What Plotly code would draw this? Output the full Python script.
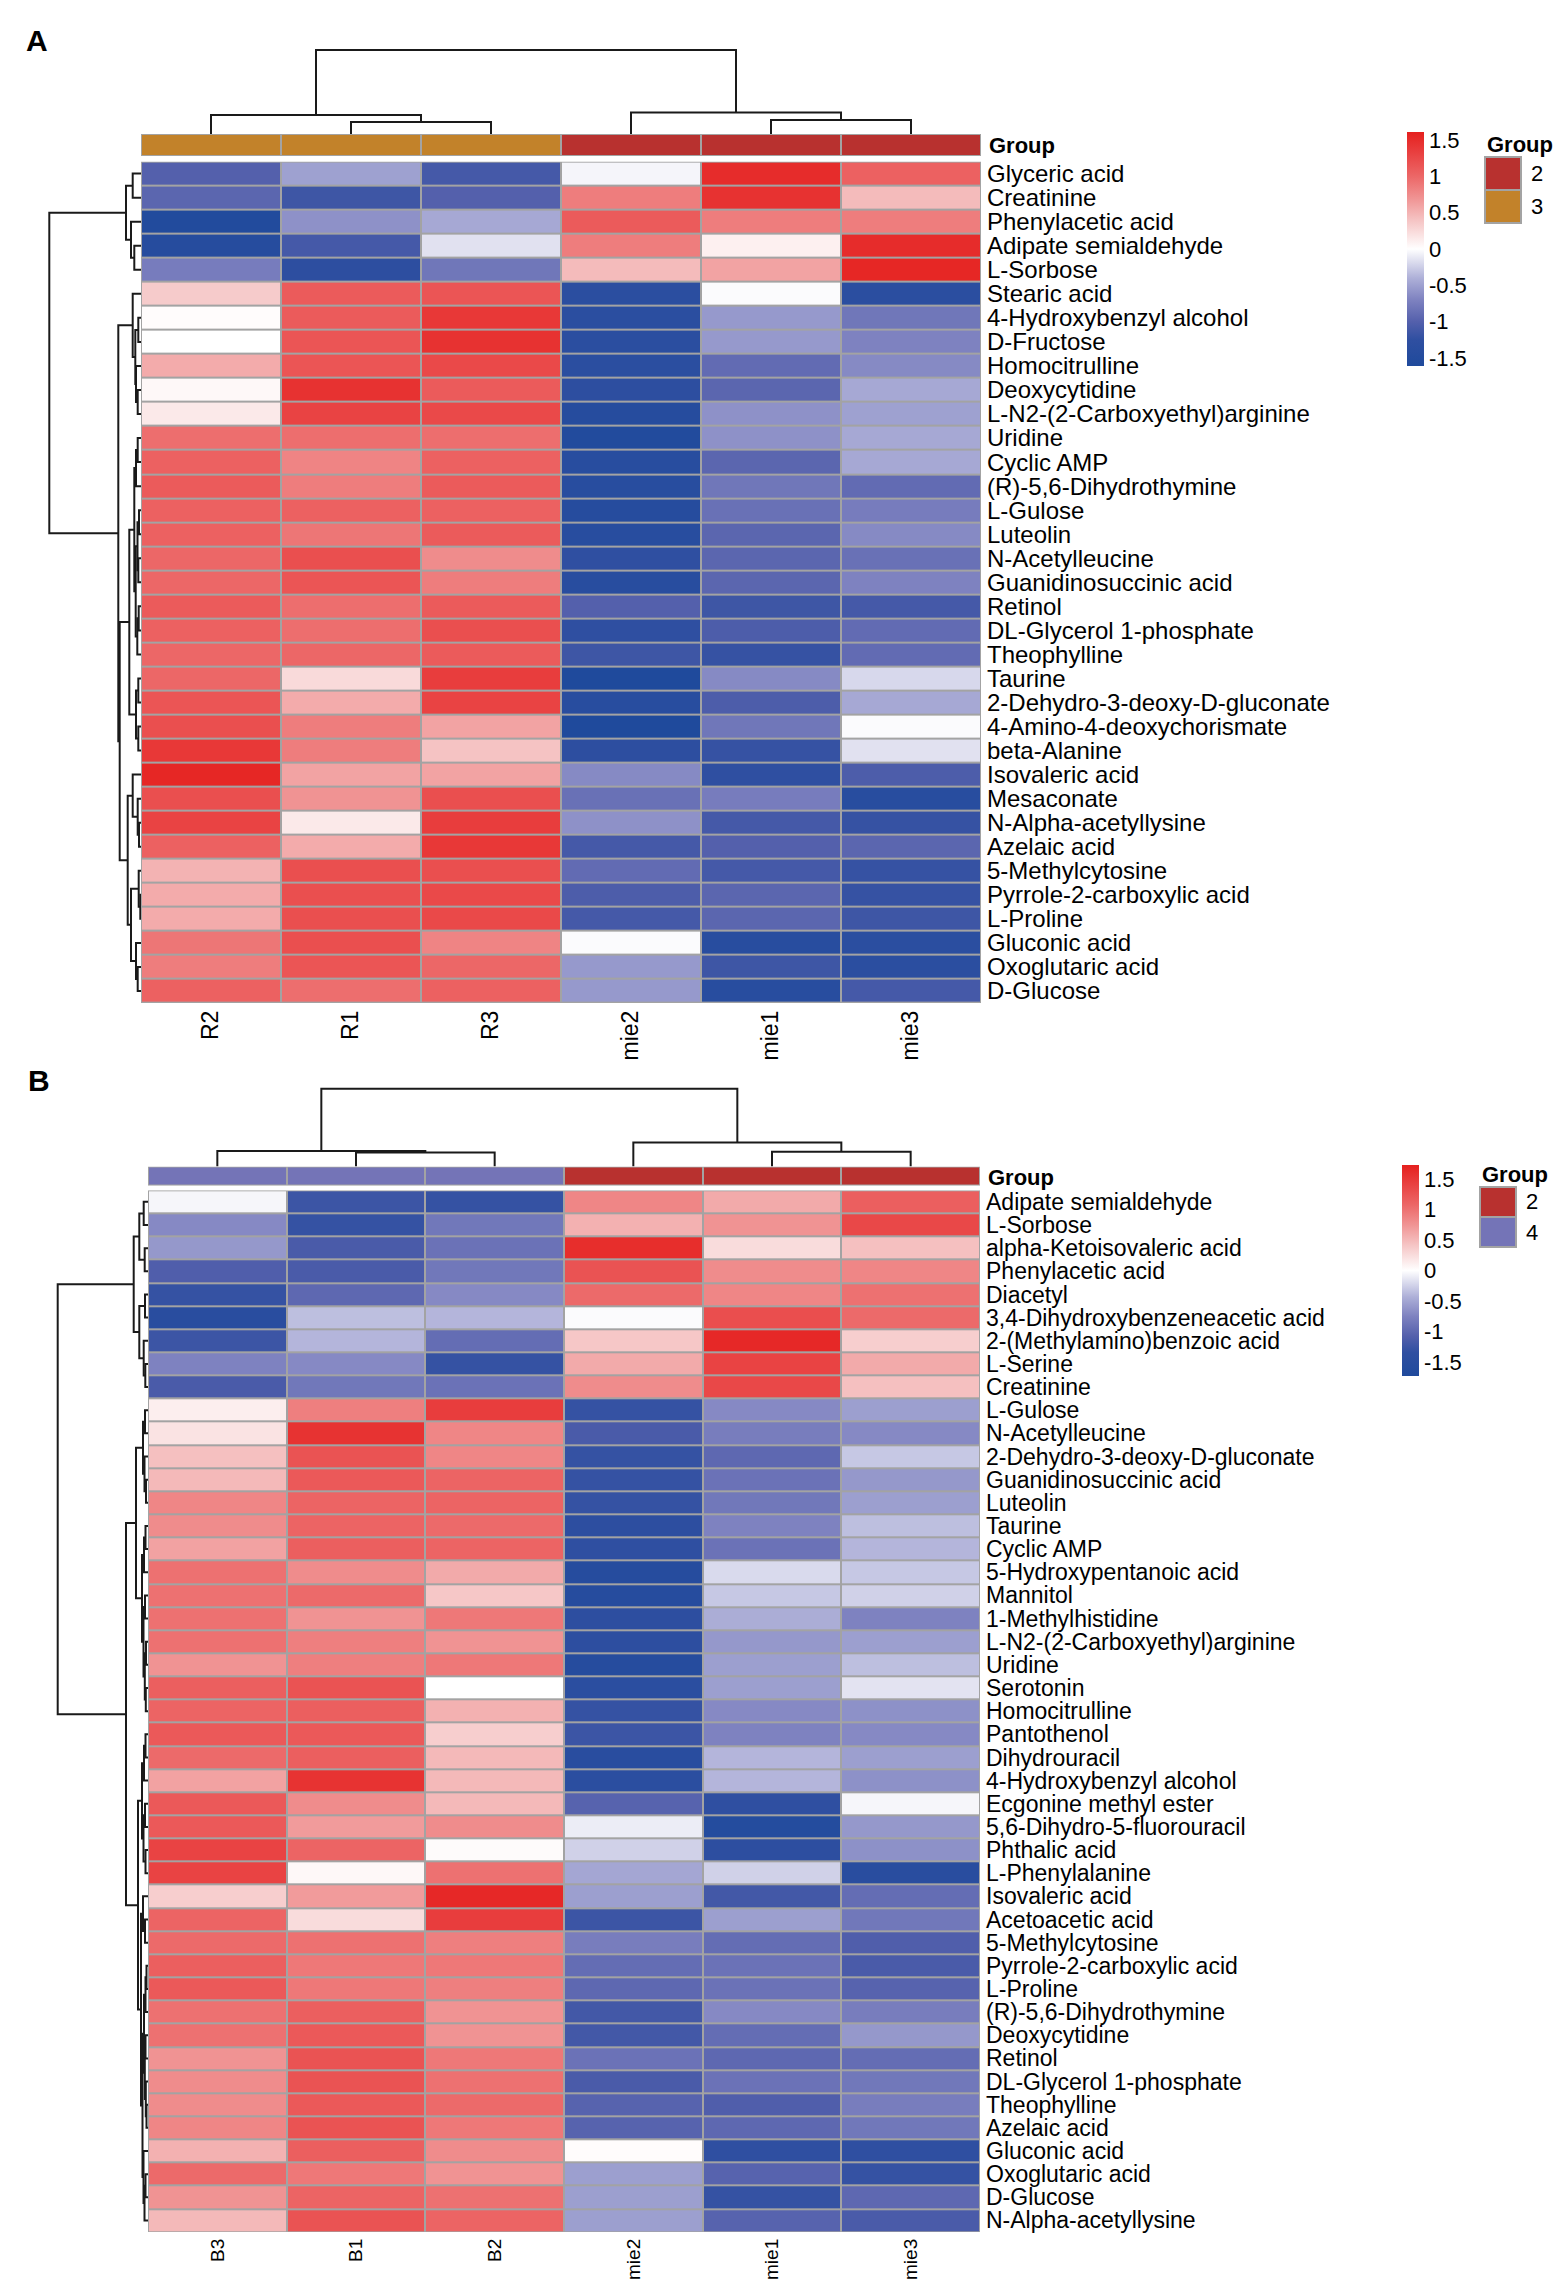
import plotly.graph_objects as go

# ---- panel A data ----
rows_a = ["Glyceric acid", "Creatinine", "Phenylacetic acid", "Adipate semialdehyde", "L-Sorbose",
          "Stearic acid", "4-Hydroxybenzyl alcohol", "D-Fructose", "Homocitrulline", "Deoxycytidine",
          "L-N2-(2-Carboxyethyl)arginine", "Uridine", "Cyclic AMP", "(R)-5,6-Dihydrothymine", "L-Gulose",
          "Luteolin", "N-Acetylleucine", "Guanidinosuccinic acid", "Retinol", "DL-Glycerol 1-phosphate",
          "Theophylline", "Taurine", "2-Dehydro-3-deoxy-D-gluconate", "4-Amino-4-deoxychorismate",
          "beta-Alanine", "Isovaleric acid", "Mesaconate", "N-Alpha-acetyllysine", "Azelaic acid",
          "5-Methylcytosine", "Pyrrole-2-carboxylic acid", "L-Proline", "Gluconic acid",
          "Oxoglutaric acid", "D-Glucose"]
cols_a = ["R2", "R1", "R3", "mie2", "mie1", "mie3"]
groups_a = ["3", "3", "3", "2", "2", "2"]
vals_a = [
    [-1.0, -0.5, -1.1, -0.05, 1.5, 1.05],
    [-0.95, -1.15, -1.0, 0.85, 1.45, 0.45],
    [-1.55, -0.6, -0.45, 1.1, 0.85, 0.85],
    [-1.45, -1.1, -0.15, 0.85, 0.1, 1.5],
    [-0.75, -1.3, -0.8, 0.45, 0.6, 1.55],
    [0.35, 1.1, 1.15, -1.35, -0.02, -1.35],
    [0.02, 1.1, 1.4, -1.35, -0.55, -0.8],
    [0.0, 1.15, 1.45, -1.35, -0.55, -0.7],
    [0.55, 1.15, 1.25, -1.35, -0.9, -0.65],
    [0.05, 1.45, 1.1, -1.3, -0.95, -0.45],
    [0.15, 1.3, 1.25, -1.45, -0.6, -0.5],
    [0.95, 0.95, 0.95, -1.55, -0.6, -0.45],
    [1.05, 0.8, 1.05, -1.4, -0.95, -0.45],
    [1.1, 0.85, 1.1, -1.4, -0.8, -0.9],
    [1.05, 1.05, 1.05, -1.45, -0.85, -0.75],
    [1.05, 0.9, 1.1, -1.4, -0.95, -0.65],
    [1.0, 1.2, 0.75, -1.25, -0.95, -0.85],
    [1.0, 1.15, 0.85, -1.4, -0.95, -0.7],
    [1.1, 0.95, 1.1, -1.0, -1.15, -1.1],
    [1.05, 0.95, 1.2, -1.25, -1.05, -0.9],
    [1.0, 1.0, 1.1, -1.15, -1.2, -0.9],
    [1.0, 0.25, 1.35, -1.6, -0.65, -0.2],
    [1.15, 0.55, 1.3, -1.4, -1.05, -0.45],
    [1.2, 0.85, 0.6, -1.6, -0.8, -0.02],
    [1.4, 0.85, 0.4, -1.3, -1.2, -0.15],
    [1.55, 0.6, 0.6, -0.65, -1.25, -1.05],
    [1.2, 0.7, 1.2, -0.85, -0.75, -1.4],
    [1.3, 0.15, 1.35, -0.6, -1.1, -1.2],
    [1.05, 0.55, 1.4, -1.1, -1.0, -0.95],
    [0.5, 1.2, 1.2, -0.9, -1.1, -1.2],
    [0.55, 1.2, 1.25, -1.05, -0.95, -1.2],
    [0.55, 1.2, 1.25, -1.1, -0.95, -1.15],
    [0.9, 1.2, 0.8, -0.02, -1.4, -1.35],
    [0.85, 1.15, 1.0, -0.55, -1.15, -1.35],
    [1.05, 0.95, 1.05, -0.55, -1.4, -1.1],
]
# dendrograms as (left, right, height); leaves are row / column indices
col_tree_a = ((0, (1, 2, 12), 19), (3, (4, 5, 14), 21.5), 84)
row_tree_a = (
    ((0, 1, 8.3), (2, (3, 4, 6.7), 10), 15),
    ((5, ((6, 7, 2.7), (8, (9, 10, 3.3), 5), 5.7), 8.3),
     (((((11, 12, 3.3), 13, 5),
        (((14, 15, 2), (16, 17, 2.7), 3.5), ((18, 19, 2.3), 20, 3.7), 5.3), 6.7),
       ((21, 22, 2.7), (23, 24, 2.7), 5), 11.7),
      ((25, (26, (27, 28, 2), 3.3), 8.3),
       ((29, (30, 31, 0.7), 2.3), (32, (33, 34, 3.3), 5), 10), 13.3), 21.3), 22.7),
    91.7)

# ---- panel B data ----
rows_b = ["Adipate semialdehyde", "L-Sorbose", "alpha-Ketoisovaleric acid", "Phenylacetic acid",
          "Diacetyl", "3,4-Dihydroxybenzeneacetic acid", "2-(Methylamino)benzoic acid", "L-Serine",
          "Creatinine", "L-Gulose", "N-Acetylleucine", "2-Dehydro-3-deoxy-D-gluconate",
          "Guanidinosuccinic acid", "Luteolin", "Taurine", "Cyclic AMP", "5-Hydroxypentanoic acid",
          "Mannitol", "1-Methylhistidine", "L-N2-(2-Carboxyethyl)arginine", "Uridine", "Serotonin",
          "Homocitrulline", "Pantothenol", "Dihydrouracil", "4-Hydroxybenzyl alcohol",
          "Ecgonine methyl ester", "5,6-Dihydro-5-fluorouracil", "Phthalic acid", "L-Phenylalanine",
          "Isovaleric acid", "Acetoacetic acid", "5-Methylcytosine", "Pyrrole-2-carboxylic acid",
          "L-Proline", "(R)-5,6-Dihydrothymine", "Deoxycytidine", "Retinol", "DL-Glycerol 1-phosphate",
          "Theophylline", "Azelaic acid", "Gluconic acid", "Oxoglutaric acid", "D-Glucose",
          "N-Alpha-acetyllysine"]
cols_b = ["B3", "B1", "B2", "mie2", "mie1", "mie3"]
groups_b = ["4", "4", "4", "2", "2", "2"]
vals_b = [
    [-0.05, -1.25, -1.3, 0.85, 0.6, 1.15],
    [-0.7, -1.3, -0.85, 0.55, 0.75, 1.35],
    [-0.6, -1.15, -0.9, 1.6, 0.25, 0.45],
    [-1.1, -1.15, -0.85, 1.25, 0.8, 0.85],
    [-1.3, -1.0, -0.7, 1.05, 0.85, 1.0],
    [-1.5, -0.35, -0.4, -0.02, 1.3, 1.05],
    [-1.25, -0.4, -0.95, 0.4, 1.65, 0.35],
    [-0.75, -0.7, -1.3, 0.6, 1.4, 0.6],
    [-1.15, -0.85, -0.9, 0.8, 1.35, 0.45],
    [0.12, 0.9, 1.45, -1.3, -0.7, -0.55],
    [0.2, 1.55, 0.85, -1.15, -0.8, -0.7],
    [0.45, 1.25, 0.85, -1.3, -1.0, -0.3],
    [0.5, 1.2, 1.1, -1.3, -0.9, -0.6],
    [0.85, 1.1, 1.1, -1.3, -0.85, -0.55],
    [0.8, 1.1, 1.05, -1.4, -0.75, -0.35],
    [0.65, 1.15, 1.1, -1.35, -0.9, -0.4],
    [1.0, 0.8, 0.6, -1.55, -0.2, -0.3],
    [1.0, 1.05, 0.4, -1.55, -0.3, -0.25],
    [1.0, 0.75, 0.95, -1.4, -0.45, -0.75],
    [1.0, 0.9, 0.75, -1.4, -0.6, -0.55],
    [0.75, 0.9, 0.95, -1.55, -0.55, -0.35],
    [1.15, 1.25, 0.0, -1.45, -0.55, -0.15],
    [1.1, 1.15, 0.55, -1.3, -0.7, -0.65],
    [1.2, 1.2, 0.35, -1.25, -0.75, -0.7],
    [1.05, 1.15, 0.5, -1.5, -0.4, -0.55],
    [0.65, 1.55, 0.5, -1.45, -0.4, -0.65],
    [1.2, 0.8, 0.5, -1.05, -1.35, -0.05],
    [1.2, 0.7, 0.8, -0.1, -1.6, -0.6],
    [1.4, 1.1, 0.03, -0.25, -1.4, -0.65],
    [1.4, 0.05, 1.0, -0.5, -0.25, -1.5],
    [0.35, 0.7, 1.65, -0.55, -1.2, -0.95],
    [1.1, 0.25, 1.45, -1.25, -0.55, -0.85],
    [1.05, 1.0, 0.9, -0.8, -0.95, -1.1],
    [1.15, 0.95, 0.95, -0.95, -0.9, -1.15],
    [1.2, 0.95, 0.9, -1.0, -0.9, -1.05],
    [1.0, 1.15, 0.75, -1.2, -0.7, -0.8],
    [1.0, 1.2, 0.75, -1.2, -0.95, -0.6],
    [0.75, 1.25, 0.95, -0.9, -1.0, -0.95],
    [0.8, 1.25, 1.0, -1.15, -0.9, -0.85],
    [0.8, 1.2, 1.05, -1.05, -1.1, -0.8],
    [0.85, 1.25, 0.95, -1.05, -1.0, -0.85],
    [0.55, 1.15, 0.8, 0.02, -1.35, -1.35],
    [1.05, 0.95, 0.75, -0.55, -1.05, -1.3],
    [0.75, 1.1, 1.0, -0.55, -1.3, -1.0],
    [0.5, 1.25, 1.1, -0.55, -1.05, -1.15],
]
col_tree_b = ((0, (1, 2, 13.9), 15.5), (3, (4, 5, 14.7), 23.9), 77.7)
row_tree_b = (
    (((0, 1, 4.3), (2, 3, 3.3), 8.7), ((4, 5, 3), (6, (7, 8, 2.7), 4.3), 8.7), 14.3),
    ((((9, 10, 3), (11, (12, 13, 2), 3.5), 5),
      (((14, 15, 2.5), 16, 4), ((17, 18, 3), ((19, 20, 2), (21, 22, 2.2), 3.2), 4.5), 6), 12),
     ((((23, 24, 2.5), 25, 4), ((26, 27, 3), (28, 29, 2.5), 4.5), 6),
      ((30, (31, 32, 3), 5),
       ((((33, 34, 1.5), 35, 2.5), ((36, 37, 2.5), (38, (39, 40, 1.5), 2.2), 3.2), 4),
        (41, ((42, 43, 2.5), 44, 3.5), 4.5), 5.5), 7), 10), 22),
    90.3)

group_colors = {"2": "#B8312F", "3": "#C2822A", "4": "#7474B7"}

W, H = 1562, 2279
FONT = "Liberation Sans, Arial, sans-serif"


def px(x):
    return x / W


def py(y):
    return 1 - y / H


# blue-white-red ramp, stops given in z units for a +-1.61 scale
stop_v = [-1.61, -1.25, -1.0, -0.7, -0.4, 0, 0.4, 0.7, 1.0, 1.3, 1.61]
stop_c = ["#1F4A9C", "#2F4FA1", "#5460AC", "#7E82C0", "#AEB0D8", "#FFFFFF",
          "#F5C3C3", "#F09393", "#EC6767", "#E94343", "#E5201E"]
colorscale = [[(v + 1.61) / 3.22, c] for v, c in zip(stop_v, stop_c)]


def walk(node, segs):
    # returns (leaf position, height) and collects the U-shaped links
    if isinstance(node, int):
        return node, 0.0
    l, r, h = node
    cl, hl = walk(l, segs)
    cr, hr = walk(r, segs)
    segs.append([(cl, hl), (cl, h), (cr, h), (cr, hr)])
    return (cl + cr) / 2, h


def dendro_xy(tree, flip=False):
    segs = []
    walk(tree, segs)
    xs, ys = [], []
    for seg in segs:
        for pos, h in seg:
            if flip:
                xs.append(h); ys.append(pos)
            else:
                xs.append(pos); ys.append(h)
        xs.append(None); ys.append(None)
    return xs, ys


fig = go.Figure()
layout = {}
shapes = []
annotations = []

# geometry of each panel in pixels
panels = [
    dict(rows=rows_a, cols=cols_a, groups=groups_a, vals=vals_a, ctree=col_tree_a, rtree=row_tree_a,
         zmax=1.61, left=133, right=973, top=153.6, bottom=995, bar=(126, 148), rowfont=24, colfont=23,
         cb=(1399, 124, 358), leg=(1477, 149, 33), letter=("A", 29, 32), ax0=1),
    dict(rows=rows_b, cols=cols_b, groups=groups_b, vals=vals_b, ctree=col_tree_b, rtree=row_tree_b,
         zmax=1.73, left=140, right=972, top=1182.3, bottom=2224, bar=(1158.5, 1177.7), rowfont=23,
         colfont=19, cb=(1394, 1157, 1368), leg=(1472, 1179, 30), letter=("B", 31, 1072), ax0=5),
]

for p in panels:
    n = len(p["rows"])
    m = len(p["cols"])
    a = p["ax0"]
    names = [str(a + i) if a + i > 1 else "" for i in range(4)]
    xdom = [px(p["left"]), px(p["right"])]

    # main heatmap
    fig.add_trace(go.Heatmap(
        z=p["vals"], x=list(range(m)), y=list(range(n)),
        xaxis="x" + names[0], yaxis="y" + names[0],
        colorscale=colorscale, zmin=-p["zmax"], zmax=p["zmax"], xgap=2, ygap=2,
        hoverinfo="skip",
        colorbar=dict(x=px(p["cb"][0]), xanchor="left", y=py(p["cb"][1]), yanchor="top",
                      len=p["cb"][2] - p["cb"][1], lenmode="pixels", thickness=17,
                      thicknessmode="pixels", outlinewidth=0, ticks="", xpad=0, ypad=0,
                      tickvals=[-1.5, -1, -0.5, 0, 0.5, 1, 1.5],
                      ticktext=["-1.5", "-1", "-0.5", "0", "0.5", "1", "1.5"],
                      tickfont=dict(family=FONT, size=22, color="black")),
    ))
    layout["xaxis" + names[0]] = dict(
        domain=xdom, range=[-0.5, m - 0.5], anchor="y" + names[0], showgrid=False, zeroline=False,
        tickmode="array", tickvals=list(range(m)), ticktext=p["cols"], tickangle=-90, ticks="",
        ticklabelstandoff=2, tickfont=dict(family=FONT, size=p["colfont"], color="black"),
        automargin=False)
    layout["yaxis" + names[0]] = dict(
        domain=[py(p["bottom"]), py(p["top"])], range=[n - 0.5, -0.5], anchor="x" + names[0],
        side="right", showgrid=False, zeroline=False, tickmode="array", tickvals=list(range(n)),
        ticktext=p["rows"], ticks="", ticklabelstandoff=5,
        tickfont=dict(family=FONT, size=p["rowfont"], color="black"), automargin=False)
    shapes.append(dict(type="rect", xref="x" + names[0], yref="y" + names[0], x0=-0.5, x1=m - 0.5,
                       y0=-0.5, y1=n - 0.5, fillcolor="#A3A3A3", line=dict(width=0), layer="below"))

    # group annotation bar
    levels = sorted(set(p["groups"]))
    codes = [levels.index(g) for g in p["groups"]]
    fig.add_trace(go.Heatmap(
        z=[codes], x=list(range(m)), y=[0], xaxis="x" + names[1], yaxis="y" + names[1],
        colorscale=[[0, group_colors[levels[0]]], [1, group_colors[levels[1]]]],
        zmin=0, zmax=1, showscale=False, xgap=2, ygap=2, hoverinfo="skip"))
    layout["xaxis" + names[1]] = dict(domain=xdom, range=[-0.5, m - 0.5], anchor="y" + names[1],
                                      visible=False)
    layout["yaxis" + names[1]] = dict(domain=[py(p["bar"][1]), py(p["bar"][0])], range=[-0.5, 0.5],
                                      anchor="x" + names[1], visible=False)
    shapes.append(dict(type="rect", xref="x" + names[1], yref="y" + names[1], x0=-0.5, x1=m - 0.5,
                       y0=-0.5, y1=0.5, fillcolor="#A3A3A3", line=dict(width=0), layer="below"))
    annotations.append(dict(text="<b>Group</b>", xref="paper", yref="paper", x=px(p["right"] + 6),
                            y=py((p["bar"][0] + p["bar"][1]) / 2 + 1), xanchor="left", yanchor="middle",
                            showarrow=False, font=dict(family=FONT, size=22, color="black")))

    # column dendrogram (height units are pixels)
    cx, cy = dendro_xy(p["ctree"])
    ch = p["ctree"][2] + 2
    fig.add_trace(go.Scatter(x=cx, y=cy, mode="lines", line=dict(color="#1A1A1A", width=2),
                             xaxis="x" + names[2], yaxis="y" + names[2], hoverinfo="skip"))
    layout["xaxis" + names[2]] = dict(domain=xdom, range=[-0.5, m - 0.5], anchor="y" + names[2],
                                      visible=False)
    layout["yaxis" + names[2]] = dict(domain=[py(p["bar"][0]), py(p["bar"][0] - ch)], range=[0, ch],
                                      anchor="x" + names[2], visible=False)

    # row dendrogram
    rx, ry = dendro_xy(p["rtree"], flip=True)
    rh = p["rtree"][2] + 2
    fig.add_trace(go.Scatter(x=rx, y=ry, mode="lines", line=dict(color="#1A1A1A", width=2),
                             xaxis="x" + names[3], yaxis="y" + names[3], hoverinfo="skip"))
    layout["xaxis" + names[3]] = dict(domain=[px(p["left"] - rh), px(p["left"])], range=[rh, 0],
                                      anchor="y" + names[3], visible=False)
    layout["yaxis" + names[3]] = dict(domain=[py(p["bottom"]), py(p["top"])], range=[n - 0.5, -0.5],
                                      anchor="x" + names[3], visible=False)

    # group legend
    lx, ly, lh = p["leg"]
    annotations.append(dict(text="<b>Group</b>", xref="paper", yref="paper", x=px(lx), y=py(ly - 13),
                            xanchor="left", yanchor="middle", showarrow=False,
                            font=dict(family=FONT, size=22, color="black")))
    legend_levels = [g for g in ["2", "3", "4"] if g in levels]
    for i, g in enumerate(legend_levels):
        shapes.append(dict(type="rect", xref="paper", yref="paper", x0=px(lx), x1=px(lx + 36),
                           y0=py(ly + lh * (i + 1)), y1=py(ly + lh * i), fillcolor=group_colors[g],
                           line=dict(color="#A3A3A3", width=2)))
        annotations.append(dict(text=g, xref="paper", yref="paper", x=px(lx + 44),
                                y=py(ly + lh * (i + 0.5)), xanchor="left", yanchor="middle",
                                showarrow=False, font=dict(family=FONT, size=22, color="black")))

    # panel letter
    annotations.append(dict(text="<b>%s</b>" % p["letter"][0], xref="paper", yref="paper",
                            x=px(p["letter"][1]), y=py(p["letter"][2]), xanchor="center",
                            yanchor="middle", showarrow=False,
                            font=dict(family=FONT, size=30, color="black")))

fig.update_layout(width=W, height=H, margin=dict(l=0, r=0, t=0, b=0), showlegend=False,
                  plot_bgcolor="white", paper_bgcolor="white", shapes=shapes,
                  annotations=annotations, **layout)

fig.write_html("out.html")
